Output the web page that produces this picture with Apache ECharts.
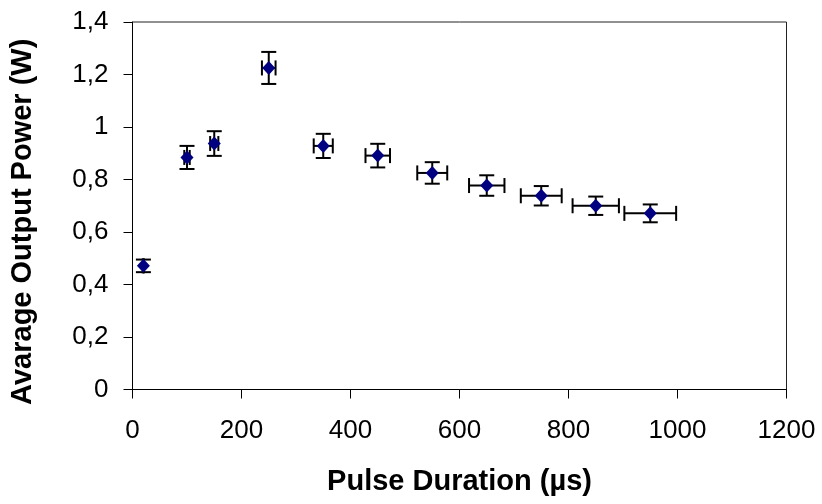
<!DOCTYPE html>
<html>
<head>
<meta charset="utf-8">
<script src="https://cdn.jsdelivr.net/npm/echarts@6/dist/echarts.min.js"></script>
<style>
html,body{margin:0;padding:0;background:#fff;}
#chart{width:822px;height:504px;}
</style>
</head>
<body>
<div id="chart"></div>
<script>
// Data
var pulseDuration = [20, 100, 150, 250, 350, 450, 550, 650, 750, 850, 950];
var outputPower   = [0.471, 0.884, 0.937, 1.225, 0.928, 0.891, 0.825, 0.777, 0.738, 0.700, 0.671];
var powerError    = [0.024, 0.044, 0.047, 0.061, 0.046, 0.045, 0.041, 0.039, 0.037, 0.035, 0.034];
var durationError = [1, 5, 7.5, 12.5, 17.5, 22.5, 27.5, 32.5, 37.5, 42.5, 47.5];
var xTickLabels = ['0', '200', '400', '600', '800', '1000', '1200'];
var yTickLabels = ['0', '0,2', '0,4', '0,6', '0,8', '1', '1,2', '1,4'];

var points = pulseDuration.map(function (x, i) { return [x, outputPower[i]]; });
var errData = pulseDuration.map(function (x, i) {
  return [x, outputPower[i], durationError[i], powerError[i]];
});

var chart = echarts.init(document.getElementById('chart'), null, {renderer: 'canvas'});
var FONT = 'Liberation Sans, Arial, sans-serif';
var CAP = 7.5;

chart.setOption({
  animation: false,
  backgroundColor: '#fff',
  grid: {
    left: 132.5, right: 35.5, top: 22, bottom: 114.5,
    show: true, borderColor: '#222', borderWidth: 1, backgroundColor: 'transparent'
  },
  xAxis: {
    type: 'value', min: 0, max: 1200, interval: 200,
    name: 'Pulse Duration (\u00b5s)', nameLocation: 'middle', nameGap: 78,
    nameTextStyle: {fontFamily: FONT, fontSize: 29, fontWeight: 'bold', color: '#000'},
    axisLine: {show: true, lineStyle: {color: '#000', width: 1}},
    axisTick: {show: true, inside: false, length: 9, lineStyle: {color: '#000'}},
    axisLabel: {
      fontFamily: FONT, fontSize: 26, color: '#000', margin: 28,
      formatter: function (v, i) { return xTickLabels[i]; }
    },
    splitLine: {show: false}
  },
  yAxis: {
    type: 'value', min: 0, max: 1.4, interval: 0.2,
    name: 'Avarage Output Power (W)', nameLocation: 'middle', nameGap: 95,
    nameTextStyle: {fontFamily: FONT, fontSize: 29, fontWeight: 'bold', color: '#000', padding: [0, 32, 0, 0]},
    axisLine: {show: true, lineStyle: {color: '#000', width: 1}},
    axisTick: {show: true, inside: false, length: 9, lineStyle: {color: '#000'}},
    axisLabel: {
      fontFamily: FONT, fontSize: 26, color: '#000', margin: 24,
      formatter: function (v, i) { return yTickLabels[i]; }
    },
    splitLine: {show: false}
  },
  series: [
    {
      type: 'custom',
      z: 1,
      data: errData,
      renderItem: function (params, api) {
        var x = api.value(0), y = api.value(1), ex = api.value(2), ey = api.value(3);
        var c = api.coord([x, y]);
        var top = api.coord([x, y + ey]);
        var bot = api.coord([x, y - ey]);
        var lef = api.coord([x - ex, y]);
        var rig = api.coord([x + ex, y]);
        var st = {stroke: '#000', lineWidth: 2};
        function ln(x1, y1, x2, y2) {
          return {type: 'line', shape: {x1: x1, y1: y1, x2: x2, y2: y2}, style: st};
        }
        return {
          type: 'group',
          children: [
            ln(c[0], top[1], c[0], bot[1]),
            ln(c[0] - CAP, top[1], c[0] + CAP, top[1]),
            ln(c[0] - CAP, bot[1], c[0] + CAP, bot[1]),
            ln(lef[0], c[1], rig[0], c[1]),
            ln(lef[0], c[1] - CAP, lef[0], c[1] + CAP),
            ln(rig[0], c[1] - CAP, rig[0], c[1] + CAP)
          ]
        };
      }
    },
    {
      type: 'scatter',
      z: 2,
      data: points,
      symbol: 'diamond',
      symbolSize: [13, 14],
      itemStyle: {color: '#000080', opacity: 1}
    }
  ]
});
</script>
</body>
</html>
